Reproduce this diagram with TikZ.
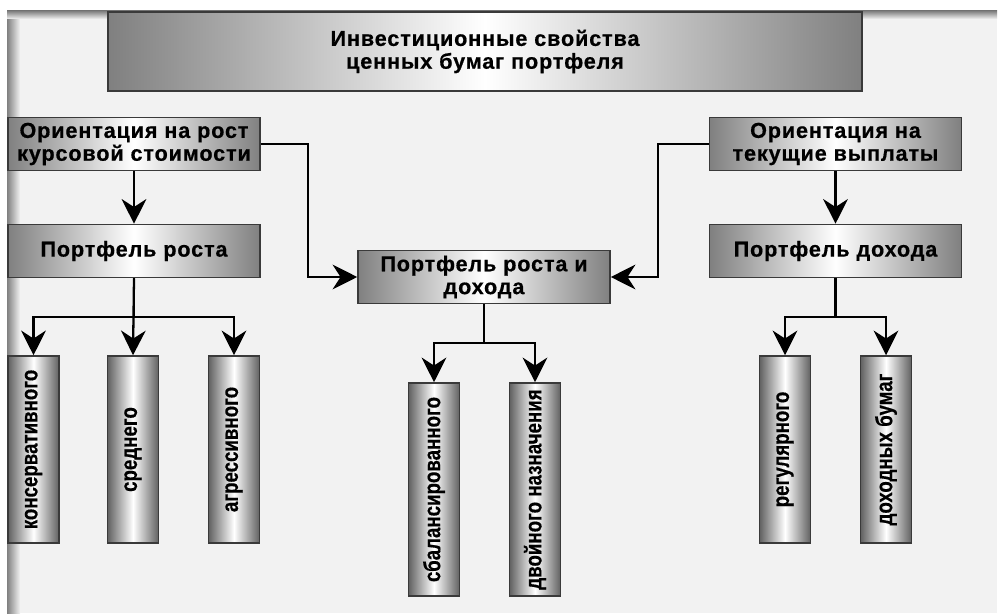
\documentclass[tikz,border=0pt]{standalone}
\usepackage{fontspec}
\setmainfont{Liberation Sans}
\newfontfamily\boxfont[LetterSpace=4,BoldFeatures={FakeBold=0.6}]{Liberation Sans}
\newfontfamily\narrowfont[FakeStretch=0.8,BoldFeatures={FakeBold=0.4}]{Liberation Sans}
\usetikzlibrary{arrows.meta,calc}
\definecolor{panelc}{HTML}{F2F2F2}
\definecolor{edgec}{HTML}{3A3A3A}
\tikzset{
  box/.style={draw=edgec, line width=0.9pt, left color=black!50, right color=black!50, middle color=white,
    inner sep=0pt, align=center, font=\boxfont\bfseries\fontsize{12.3}{13}\selectfont},
  widebox/.style={box, minimum width=5.04cm, minimum height=1.06cm},
  tallbox/.style={draw=edgec, line width=0.9pt, left color=black!62, right color=black!62, middle color=white,
    inner sep=0pt, minimum width=1.02cm, font=\narrowfont\bfseries\fontsize{13.3}{15}\selectfont},
  conn/.style={line width=1.3pt, draw=black},
  arr/.style={conn, -{Stealth[length=14pt,width=14pt,inset=4.5pt]}}
}
\begin{document}
\begin{tikzpicture}[x=0.02cm,y=-0.02cm]
\useasboundingbox (0,0) rectangle (1000,615);
\fill[white] (0,0) rectangle (1000,615);
\fill[panelc] (7,11) rectangle (997,613);
\shade[left color=black!50, right color=panelc] (7,11) rectangle (20,613);
\shade[top color=black!50, bottom color=panelc] (7,11) rectangle (997,19);

\node[box, minimum width=15.08cm, minimum height=1.58cm] (top) at (485,51.5)
  {Инвестиционные свойства\\ценных бумаг портфеля};

\node[widebox] (lo) at (134,144) {Ориентация на рост\\курсовой стоимости};
\node[widebox] (ro) at (835.5,144) {Ориентация на\\текущие выплаты};
\node[widebox] (pr) at (134,251) {Портфель роста};
\node[widebox] (pd) at (835.5,251) {Портфель дохода};
\node[widebox] (prd) at (484,277) {Портфель роста и\\дохода};

\node[tallbox, minimum height=3.74cm] (t1) at (33.5,449.5) {\rotatebox{90}{консервативного}};
\node[tallbox, minimum height=3.74cm] (t2) at (133,449.5) {\rotatebox{90}{среднего}};
\node[tallbox, minimum height=3.74cm] (t3) at (234,449.5) {\rotatebox{90}{агрессивного}};
\node[tallbox, minimum height=4.26cm] (t4) at (434,489.5) {\rotatebox{90}{сбалансированного}};
\node[tallbox, minimum height=4.26cm] (t5) at (535,489.5) {\rotatebox{90}{двойного назначения}};
\node[tallbox, minimum height=3.74cm] (t6) at (785,449.5) {\rotatebox{90}{регулярного}};
\node[tallbox, minimum height=3.74cm] (t7) at (886,449.5) {\rotatebox{90}{доходных бумаг}};

\draw[arr] (lo) -- (pr);
\draw[arr] (ro) -- (pd);
\draw[arr] (lo.east) -- ++(47,0) |- (prd.west);
\draw[arr] (ro.west) -- ++(-51,0) |- (prd.east);

\draw[arr] (pr.south) -- ++(0,39) -| (t1.north);
\draw[arr] (pr.south) -- (t2.north);
\draw[arr] (pr.south) -- ++(0,39) -| (t3.north);

\draw[arr] (prd.south) -- ++(0,39) -| (t4.north);
\draw[arr] (prd.south) -- ++(0,39) -| (t5.north);

\draw[arr] (pd.south) -- ++(0,39) -| (t6.north);
\draw[arr] (pd.south) -- ++(0,39) -| (t7.north);
\end{tikzpicture}
\end{document}
